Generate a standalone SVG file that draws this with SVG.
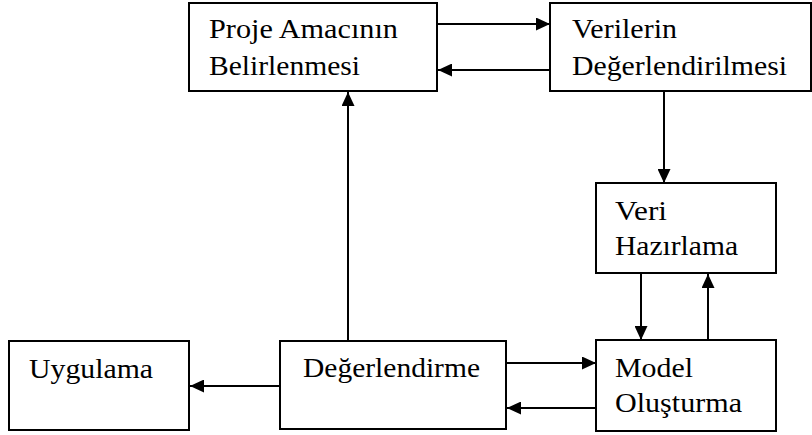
<svg xmlns="http://www.w3.org/2000/svg" width="812" height="435" viewBox="0 0 812 435">
<style>
.box{fill:#fff;stroke:#000;stroke-width:2}
.con{stroke:#000;stroke-width:2;fill:none;marker-end:url(#ah)}
text{font-family:'Liberation Serif','Times New Roman',Times,serif;font-size:28px;fill:#000}
</style>
<defs>
<marker id="ah" markerUnits="userSpaceOnUse" markerWidth="15" markerHeight="13" refX="14" refY="6.5" orient="auto">
<path d="M0,0 L14,6.5 L0,13 z" fill="#000"/>
</marker>
</defs>
<rect width="812" height="435" fill="#fff"/>
<g id="connectors">
<line class="con" x1="437" y1="24" x2="550" y2="24"/>
<line class="con" x1="550" y1="70" x2="438" y2="70"/>
<line class="con" x1="664" y1="92" x2="664" y2="183"/>
<line class="con" x1="641" y1="274" x2="641" y2="340"/>
<line class="con" x1="708" y1="340" x2="708" y2="274"/>
<line class="con" x1="507" y1="363" x2="596" y2="363"/>
<line class="con" x1="596" y1="408" x2="507" y2="408"/>
<line class="con" x1="280" y1="386" x2="190" y2="386"/>
<line class="con" x1="348" y1="341" x2="348" y2="92"/>
</g>
<g id="proje">
<rect class="box" x="189" y="3" width="248" height="88"/>
<text x="209" y="38" textLength="189" lengthAdjust="spacingAndGlyphs">Proje Amacının</text>
<text x="209" y="75" textLength="151" lengthAdjust="spacingAndGlyphs">Belirlenmesi</text>
</g>
<g id="verilerin">
<rect class="box" x="550" y="3" width="261" height="88"/>
<text x="572" y="38" textLength="105" lengthAdjust="spacingAndGlyphs">Verilerin</text>
<text x="572" y="75" textLength="215" lengthAdjust="spacingAndGlyphs">Değerlendirilmesi</text>
</g>
<g id="veri">
<rect class="box" x="596" y="183" width="180" height="90"/>
<text x="615" y="220" textLength="52" lengthAdjust="spacingAndGlyphs">Veri</text>
<text x="615" y="255" textLength="123" lengthAdjust="spacingAndGlyphs">Hazırlama</text>
</g>
<g id="model">
<rect class="box" x="596" y="340" width="180" height="91"/>
<text x="615" y="377" textLength="78" lengthAdjust="spacingAndGlyphs">Model</text>
<text x="615" y="412" textLength="127" lengthAdjust="spacingAndGlyphs">Oluşturma</text>
</g>
<g id="degerlendirme">
<rect class="box" x="280" y="341" width="226" height="88"/>
<text x="303" y="377" textLength="177" lengthAdjust="spacingAndGlyphs">Değerlendirme</text>
</g>
<g id="uygulama">
<rect class="box" x="9" y="341" width="180" height="89"/>
<text x="29" y="378" textLength="124" lengthAdjust="spacingAndGlyphs">Uygulama</text>
</g>
</svg>
